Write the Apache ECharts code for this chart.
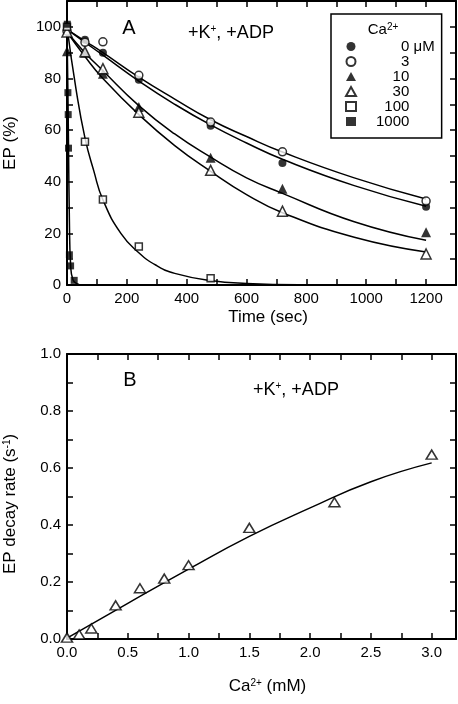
<!DOCTYPE html>
<html>
<head>
<meta charset="utf-8">
<script src="https://cdn.jsdelivr.net/npm/echarts@6/dist/echarts.min.js"></script>
<style>
html,body{margin:0;padding:0;background:#fff;}
#chart{width:458px;height:704px;}
</style>
</head>
<body>
<div id="chart"></div>
<script>
// ---------- Panel A data (EP %, vs time in s) ----------
const tA = [0, 60, 120, 240, 480, 720, 1200];
const ep0 = [100, 95, 90, 79.5, 61.7, 47.3, 30.3];
const ep3 = [98.3, 94, 94.2, 81.2, 63.1, 51.6, 32.5];
const ep10 = [90.5, 90, 81.8, 68.9, 49.3, 37.3, 20.4];
const ep30 = [98, 90.3, 83.8, 66.9, 44.4, 28.6, 12];
const t100 = [0, 60, 120, 240, 480];
const ep100 = [100, 55.5, 33.1, 14.9, 2.6];
const t1000 = [1, 3, 4, 5, 8, 12, 24];
const ep1000 = [101, 74.5, 66, 53, 11.7, 7.4, 1.8];

// fitted curves
const tFit = [0, 60, 120, 240, 360, 480, 600, 720, 960, 1200];
const fit0 = [99, 94, 89, 79, 70, 62, 55, 48.7, 38.5, 30.5];
const fit3 = [99, 94.5, 90, 80.5, 72, 64, 57.5, 51.5, 41.5, 33.3];
const fit10 = [98, 90, 83, 69.5, 58.5, 49.5, 41.5, 35.5, 24.5, 17.3];
const fit30 = [98, 88.5, 80, 66, 54, 44, 35, 28, 18.5, 12.8];
const tFit100 = [0, 30, 60, 90, 120, 180, 240, 300, 360, 480, 600, 800, 1200];
const fit100 = [100, 76, 57, 44, 33, 20, 12.5, 7.5, 4.5, 1.7, 0.6, 0.1, 0];
const tFit1000 = [0, 3, 5, 8, 12, 20, 40];
const fit1000 = [100, 75, 55, 25, 8, 2, 0.2];

const legendNames = ['0', '3', '10', '30', '100', '1000'];

// ---------- Panel B data (EP decay rate vs Ca2+ mM) ----------
const ca = [0, 0.1, 0.2, 0.4, 0.6, 0.8, 1.0, 1.5, 2.2, 3.0];
const rate = [0.005, 0.016, 0.037, 0.118, 0.178, 0.212, 0.259, 0.39, 0.48, 0.647];
const caFit = [0, 0.5, 1.0, 1.5, 2.0, 2.5, 3.0];
const rateFit = [0.003, 0.125, 0.245, 0.36, 0.46, 0.552, 0.618];

const FONT = 'Liberation Sans, Arial, Helvetica, sans-serif';
const zip = (xs, ys) => xs.map((x, i) => [x, ys[i]]);

function axis(extra, showLabel, fmt) {
  return Object.assign({
    type: 'value',
    axisLine: {show: true, onZero: false, lineStyle: {color: '#000', width: 2}},
    axisTick: {show: true, inside: true, length: 6, lineStyle: {color: '#000', width: 1.5}},
    splitLine: {show: false},
    axisLabel: {show: showLabel, color: '#000', fontSize: 15, fontFamily: FONT, margin: 6, formatter: fmt},
    nameTextStyle: {color: '#000', fontSize: 17, fontFamily: FONT}
  }, extra);
}

const fmtTA = v => (v % 200 === 0 && v <= 1200) ? String(v) : '';
const fmtYA = v => (v % 20 === 0 && v <= 100) ? String(v) : '';
const fmtXB = v => (Math.abs(v * 2 - Math.round(v * 2)) < 1e-6 && v <= 3.001) ? v.toFixed(1) : '';
const fmtYB = v => (Math.round(v * 10) % 2 === 0) ? v.toFixed(1) : '';

const supRich = {
  s: {fontSize: 10, fontFamily: FONT, color: '#000', verticalAlign: 'top', lineHeight: 10}
};

const filled = {color: '#000'};
const open = {color: '#fff', borderColor: '#000', borderWidth: 1.5};

function fitLine(xs, ys, name, xi, yi) {
  return {
    type: 'line', name: name, xAxisIndex: xi, yAxisIndex: yi,
    data: zip(xs, ys), smooth: 0.5, showSymbol: false, symbol: 'none',
    lineStyle: {color: '#000', width: 1.5}, z: 2, silent: true
  };
}
function pts(xs, ys, name, symbol, size, style, xi, yi) {
  return {
    type: 'scatter', name: name, xAxisIndex: xi, yAxisIndex: yi,
    data: zip(xs, ys), symbol: symbol, symbolSize: size, itemStyle: style, z: 3
  };
}

const legendRich = {
  p1: {padding: [0, 0, 0, 40], fontSize: 15, fontFamily: FONT, color: '#000', lineHeight: 17.6},
  p2: {padding: [0, 0, 0, 31.6], fontSize: 15, fontFamily: FONT, color: '#000', lineHeight: 17.6},
  p3: {padding: [0, 0, 0, 23.3], fontSize: 15, fontFamily: FONT, color: '#000', lineHeight: 17.6},
  p4: {padding: [0, 0, 0, 15], fontSize: 15, fontFamily: FONT, color: '#000', lineHeight: 17.6},
  u: {fontSize: 15, fontFamily: FONT, color: '#000', lineHeight: 17.6}
};

const chart = echarts.init(document.getElementById('chart'), null, {renderer: 'canvas'});
chart.setOption({
  animation: false,
  backgroundColor: '#fff',
  textStyle: {fontFamily: FONT},
  grid: [
    {left: 67, top: 1, width: 389, height: 284, show: false, containLabel: false, outerBoundsMode: 'none'},
    {left: 67, top: 354, width: 389, height: 285, show: false, containLabel: false, outerBoundsMode: 'none'}
  ],
  xAxis: [
    axis({gridIndex: 0, position: 'bottom', min: 0, max: 1300, interval: 100,
      name: 'Time (sec)', nameLocation: 'middle', nameGap: 24,
      nameTextStyle: {color: '#000', fontSize: 17, fontFamily: FONT, padding: [0, 0, 0, 13]}}, true, fmtTA),
    axis({gridIndex: 0, position: 'top', min: 0, max: 1300, interval: 100}, false),
    axis({gridIndex: 1, position: 'bottom', min: 0, max: 3.2, interval: 0.25,
      name: 'Ca{s|2+} (mM)', nameLocation: 'middle', nameGap: 39,
      nameTextStyle: {color: '#000', fontSize: 17, fontFamily: FONT, padding: [0, 0, 0, 12], rich: supRich}}, true, fmtXB),
    axis({gridIndex: 1, position: 'top', min: 0, max: 3.2, interval: 0.25}, false)
  ],
  yAxis: [
    axis({gridIndex: 0, position: 'left', min: 0, max: 110, interval: 10,
      name: 'EP (%)', nameLocation: 'middle', nameGap: 48}, true, fmtYA),
    axis({gridIndex: 0, position: 'right', min: 0, max: 110, interval: 10}, false),
    axis({gridIndex: 1, position: 'left', min: 0, max: 1.0, interval: 0.1,
      name: 'EP decay rate (s{s|-1})', nameLocation: 'middle', nameGap: 48,
      nameTextStyle: {color: '#000', fontSize: 17, fontFamily: FONT, padding: [0, 15, 0, 0], rich: supRich}}, true, fmtYB),
    axis({gridIndex: 1, position: 'right', min: 0, max: 1.0, interval: 0.1}, false)
  ],
  legend: {
    data: legendNames,
    orient: 'vertical',
    left: 331, top: 14,
    padding: [25, 7, 9, 14],
    itemWidth: 10, itemHeight: 9, itemGap: 0,
    borderColor: '#000', borderWidth: 1.5,
    backgroundColor: '#fff',
    selectedMode: false,
    formatter: name => '{p' + name.length + '|' + name + '}' + (name === '0' ? '{u| μM}' : ''),
    textStyle: {color: '#000', fontSize: 15, fontFamily: FONT, rich: legendRich}
  },
  graphic: [
    {type: 'text', x: 383, y: 30, z: 100, style: {text: 'Ca{s|2+}', fill: '#000', fontSize: 15, fontFamily: FONT, align: 'center', verticalAlign: 'middle', rich: supRich}},
    {type: 'text', x: 129, y: 28, style: {text: 'A', fill: '#000', fontSize: 20, fontFamily: FONT, align: 'center', verticalAlign: 'middle'}},
    {type: 'text', x: 188, y: 33, style: {text: '+K{s|+}, +ADP', fill: '#000', fontSize: 18, fontFamily: FONT, align: 'left', verticalAlign: 'middle', rich: supRich}},
    {type: 'text', x: 130, y: 380, style: {text: 'B', fill: '#000', fontSize: 20, fontFamily: FONT, align: 'center', verticalAlign: 'middle'}},
    {type: 'text', x: 253, y: 390, style: {text: '+K{s|+}, +ADP', fill: '#000', fontSize: 18, fontFamily: FONT, align: 'left', verticalAlign: 'middle', rich: supRich}}
  ],
  series: [
    fitLine(tFit, fit0, 'fit0', 0, 0),
    fitLine(tFit, fit3, 'fit3', 0, 0),
    fitLine(tFit, fit10, 'fit10', 0, 0),
    fitLine(tFit, fit30, 'fit30', 0, 0),
    fitLine(tFit100, fit100, 'fit100', 0, 0),
    fitLine(tFit1000, fit1000, 'fit1000', 0, 0),
    pts(tA, ep0, '0', 'circle', 8, filled, 0, 0),
    pts(tA, ep3, '3', 'circle', 8, open, 0, 0),
    pts(tA, ep10, '10', 'triangle', 10, filled, 0, 0),
    pts(tA, ep30, '30', 'triangle', 10, open, 0, 0),
    pts(t100, ep100, '100', 'rect', 7, open, 0, 0),
    pts(t1000, ep1000, '1000', 'rect', 7, filled, 0, 0),
    fitLine(caFit, rateFit, 'fitB', 2, 2),
    pts(ca, rate, 'rateB', 'triangle', [11, 9], open, 2, 2)
  ]
});
</script>
</body>
</html>
